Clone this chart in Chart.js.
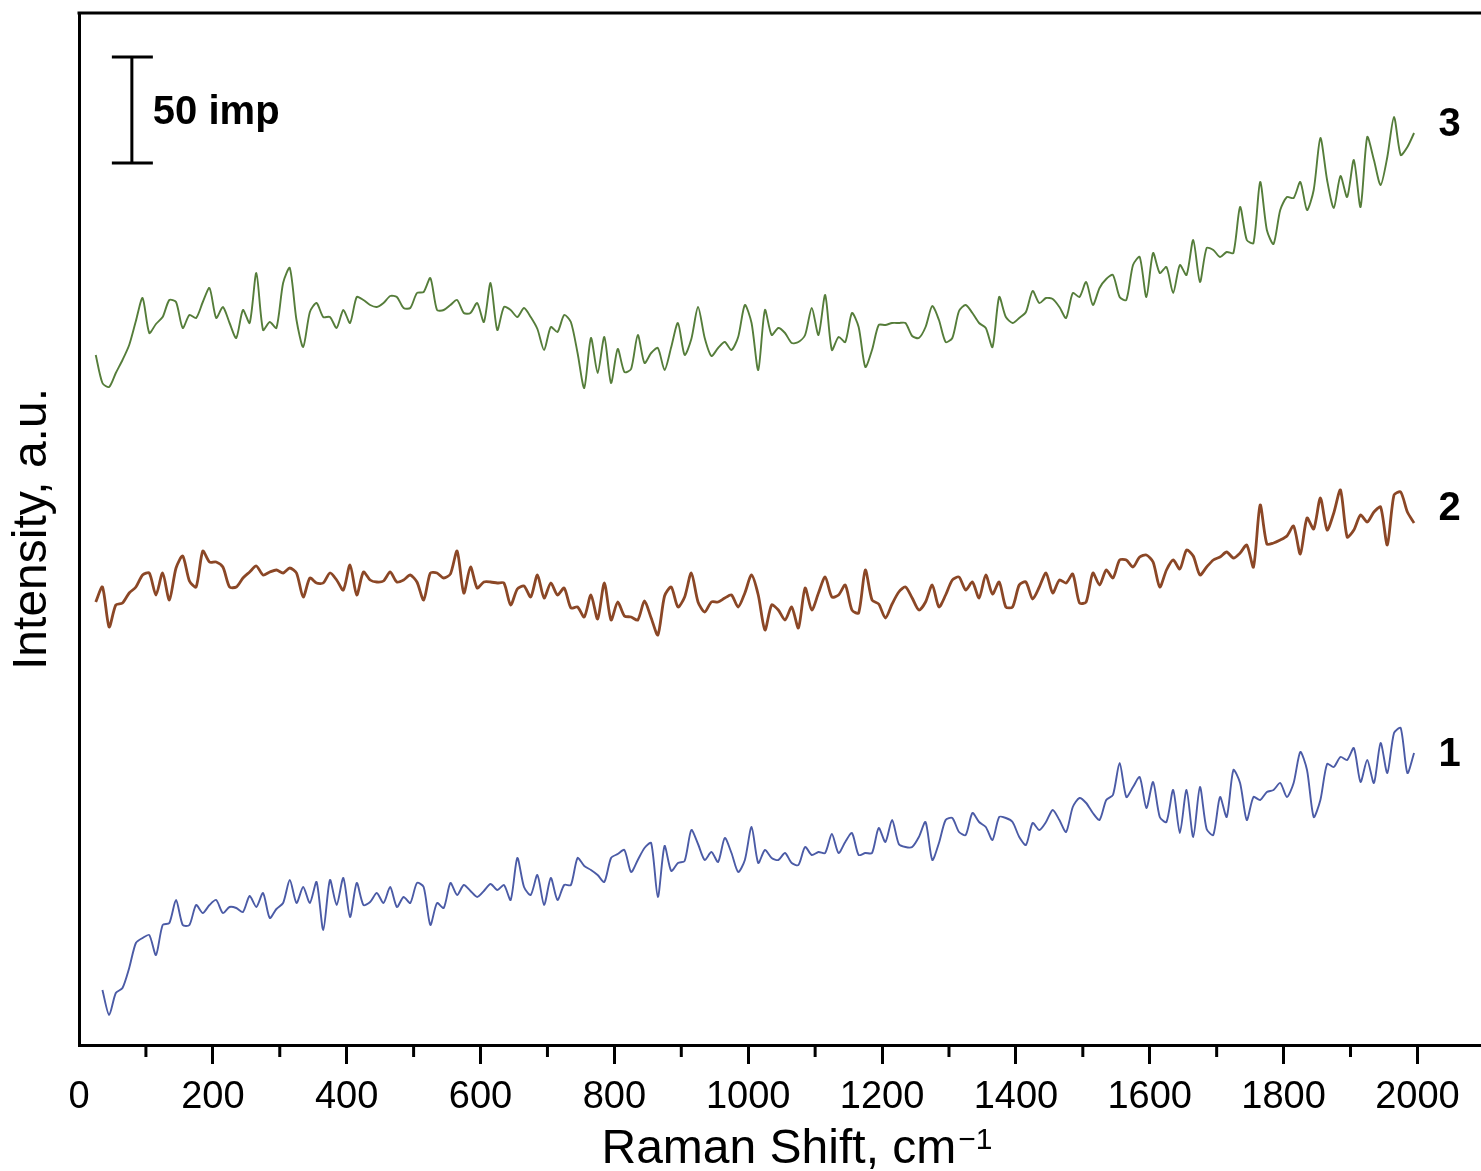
<!DOCTYPE html>
<html>
<head>
<meta charset="utf-8">
<title>Raman spectra</title>
<script src="https://cdn.jsdelivr.net/npm/chart.js@4/dist/chart.umd.min.js"></script>
<style>
  html, body { margin: 0; padding: 0; background: #ffffff; }
  #chart-wrap { width: 1481px; height: 1171px; }
</style>
</head>
<body>
<div id="chart-wrap"><canvas id="chart-space" width="1481" height="1171"></canvas></div>
<script>
// Raman shift grid, cm-1
const ramanShift = [
  25, 35, 45, 55, 65, 75, 85, 95, 105, 115,
  125, 135, 145, 155, 165, 175, 185, 195, 205, 215,
  225, 235, 245, 255, 265, 275, 285, 295, 305, 315,
  325, 335, 345, 355, 365, 375, 385, 395, 405, 415,
  425, 435, 445, 455, 465, 475, 485, 495, 505, 515,
  525, 535, 545, 555, 565, 575, 585, 595, 605, 615,
  625, 635, 645, 655, 665, 675, 685, 695, 705, 715,
  725, 735, 745, 755, 765, 775, 785, 795, 805, 815,
  825, 835, 845, 855, 865, 875, 885, 895, 905, 915,
  925, 935, 945, 955, 965, 975, 985, 995, 1005, 1015,
  1025, 1035, 1045, 1055, 1065, 1075, 1085, 1095, 1105, 1115,
  1125, 1135, 1145, 1155, 1165, 1175, 1185, 1195, 1205, 1215,
  1225, 1235, 1245, 1255, 1265, 1275, 1285, 1295, 1305, 1315,
  1325, 1335, 1345, 1355, 1365, 1375, 1385, 1395, 1405, 1415,
  1425, 1435, 1445, 1455, 1465, 1475, 1485, 1495, 1505, 1515,
  1525, 1535, 1545, 1555, 1565, 1575, 1585, 1595, 1605, 1615,
  1625, 1635, 1645, 1655, 1665, 1675, 1685, 1695, 1705, 1715,
  1725, 1735, 1745, 1755, 1765, 1775, 1785, 1795, 1805, 1815,
  1825, 1835, 1845, 1855, 1865, 1875, 1885, 1895, 1905, 1915,
  1925, 1935, 1945, 1955, 1965, 1975, 1985, 1995
];

// intensities (a.u., spectra stacked with offsets)
const spectrum1 = [
  null, 55, 30, 52, 57, 77, 102, 107, 110, 90,
  120, 122, 145, 120, 120, 140, 132, 140, 145, 132,
  138, 137, 133, 149, 138, 152, 127, 136, 142, 165,
  142, 158, 142, 163, 115, 165, 140, 167, 128, 162,
  140, 143, 152, 142, 158, 138, 148, 142, 162, 158,
  120, 142, 137, 162, 150, 160, 154, 148, 154, 161,
  155, 160, 145, 187, 158, 150, 170, 140, 167, 145,
  160, 160, 187, 179, 175, 170, 163, 187, 191, 195,
  173, 185, 197, 202, 148, 199, 174, 182, 184, 215,
  201, 185, 193, 183, 207, 192, 173, 185, 218, 182,
  195, 187, 185, 192, 182, 180, 198, 190, 193, 192,
  211, 192, 203, 212, 190, 192, 192, 217, 203, 225,
  201, 198, 198, 208, 223, 185, 202, 225, 227, 213,
  210, 232, 223, 218, 205, 228, 227, 223, 208, 200,
  222, 215, 223, 235, 225, 213, 238, 247, 242, 232,
  225, 245, 250, 282, 248, 258, 268, 237, 263, 228,
  223, 255, 212, 255, 208, 258, 216, 210, 248, 228,
  275, 262, 225, 248, 245, 253, 255, 262, 248, 262,
  293, 275, 228, 245, 281, 278, 288, 285, 297, 263,
  285, 262, 302, 272, 312, 317, 272, 292
];

const spectrum2 = [
  443, 458, 418, 440, 442, 452, 458, 470, 472, 450,
  472, 445, 477, 489, 464, 458, 494, 483, 483, 478,
  458, 458, 467, 473, 479, 470, 473, 475, 472, 477,
  472, 448, 467, 462, 462, 472, 465, 455, 480, 450,
  473, 465, 463, 464, 473, 463, 465, 470, 463, 445,
  472, 472, 467, 471, 494, 452, 478, 457, 463, 463,
  462, 462, 440, 456, 459, 448, 470, 447, 462, 450,
  457, 437, 438, 428, 450, 426, 462, 425, 443, 429,
  428, 425, 444, 427, 410, 449, 458, 438, 448, 472,
  443, 433, 443, 443, 447, 450, 438, 452, 470, 450,
  415, 440, 435, 425, 438, 417, 457, 435, 452, 468,
  448, 450, 460, 435, 432, 475, 445, 441, 427, 441,
  453, 458, 447, 435, 443, 460, 438, 450, 465, 468,
  455, 463, 447, 470, 451, 463, 438, 438, 460, 463,
  446, 458, 472, 452, 465, 462, 471, 442, 443, 472,
  460, 475, 467, 485, 485, 478, 488, 490, 483, 458,
  475, 485, 476, 495, 489, 470, 478, 485, 488, 493,
  487, 492, 500, 478, 540, 501, 502, 505, 509, 519,
  491, 527, 516, 547, 515, 532, 555, 508, 515, 530,
  523, 533, 538, 500, 550, 553, 533, 522
];

const spectrum3 = [
  690, 662, 658, 672, 685, 700, 724, 747, 712, 721,
  728, 745, 743, 717, 730, 727, 743, 757, 727, 738,
  722, 707, 735, 722, 772, 715, 723, 717, 762, 777,
  725, 698, 733, 742, 728, 728, 717, 735, 722, 748,
  745, 740, 738, 742, 749, 748, 737, 737, 752, 753,
  767, 735, 735, 740, 745, 732, 732, 742, 723, 762,
  715, 738, 735, 728, 737, 728, 716, 695, 718, 713,
  730, 723, 692, 657, 707, 672, 708, 662, 696, 673,
  676, 710, 682, 692, 697, 675, 698, 722, 690, 706,
  738, 707, 689, 697, 703, 695, 708, 740, 722, 675,
  735, 710, 717, 712, 702, 703, 710, 737, 710, 750,
  695, 708, 703, 732, 718, 678, 695, 720, 720, 722,
  722, 722, 709, 707, 718, 739, 725, 703, 707, 734,
  740, 732, 722, 717, 698, 748, 728, 722, 727, 733,
  754, 742, 747, 746, 738, 727, 752, 748, 763, 740,
  757, 766, 770, 748, 745, 780, 788, 748, 792, 772,
  778, 752, 780, 770, 805, 763, 797, 795, 788, 793,
  792, 838, 805, 802, 863, 815, 801, 835, 848, 847,
  863, 835, 855, 907, 865, 837, 869, 848, 885, 838,
  908, 885, 860, 888, 928, 890, 898, 912
];

const xTickValues = [0, 100, 200, 300, 400, 500, 600, 700, 800, 900, 1000,
  1100, 1200, 1300, 1400, 1500, 1600, 1700, 1800, 1900, 2000];

// curve numbers at the right end
const curveNames = ['1', '2', '3'];
const curveNameShift = [2048, 2048, 2048];
const curveNameLevel = [290, 536, 920];

// scale bar: 50 imp
const scaleBarShift = 79;
const scaleBarTop = 988;
const scaleBarHeight = 106;
const scaleBarText = '50 imp';

const xTitle = 'Raman Shift, cm';
const xTitleSup = '\u22121';

const FONT = "'Liberation Sans', Arial, sans-serif";
Chart.defaults.font.family = FONT;
Chart.defaults.color = '#000';

function toPoints(values) {
  return ramanShift.map((x, i) => ({ x: x, y: values[i] }));
}

const decorations = {
  id: 'decorations',
  afterDraw(chart) {
    const { ctx, chartArea, scales } = chart;
    const x = scales.x, y = scales.y;
    ctx.save();
    ctx.strokeStyle = '#000';
    ctx.fillStyle = '#000';
    ctx.lineWidth = 3;
    // top frame line
    ctx.beginPath();
    ctx.moveTo(chartArea.left - 1.5, chartArea.top);
    ctx.lineTo(chartArea.right, chartArea.top);
    ctx.stroke();
    // minor ticks
    xTickValues.filter(v => v % 200 !== 0).forEach(v => {
      const px = x.getPixelForValue(v);
      ctx.beginPath();
      ctx.moveTo(px, chartArea.bottom);
      ctx.lineTo(px, chartArea.bottom + 12);
      ctx.stroke();
    });
    // scale bar
    const bx = x.getPixelForValue(scaleBarShift);
    const bTop = y.getPixelForValue(scaleBarTop);
    const bBot = y.getPixelForValue(scaleBarTop - scaleBarHeight);
    ctx.beginPath();
    ctx.moveTo(bx, bTop); ctx.lineTo(bx, bBot);
    ctx.moveTo(bx - 20, bTop); ctx.lineTo(bx + 21, bTop);
    ctx.moveTo(bx - 20, bBot); ctx.lineTo(bx + 21, bBot);
    ctx.stroke();
    ctx.font = 'bold 40px ' + FONT;
    ctx.textBaseline = 'middle';
    ctx.textAlign = 'left';
    ctx.fillText(scaleBarText, bx + 21, (bTop + bBot) / 2 + 3);
    // curve numbers
    ctx.textAlign = 'center';
    curveNames.forEach((t, i) => {
      ctx.fillText(t, x.getPixelForValue(curveNameShift[i]), y.getPixelForValue(curveNameLevel[i]));
    });
    // x axis title with superscript
    ctx.textBaseline = 'alphabetic';
    ctx.textAlign = 'left';
    ctx.font = '48px ' + FONT;
    const mainW = ctx.measureText(xTitle).width;
    ctx.font = '30px ' + FONT;
    const supW = ctx.measureText(xTitleSup).width;
    const cx = (chartArea.left + chartArea.right) / 2 + 17;
    const startX = cx - (mainW + supW + 2) / 2;
    const base = chartArea.bottom + 118;
    ctx.font = '48px ' + FONT;
    ctx.fillText(xTitle, startX, base);
    ctx.font = '30px ' + FONT;
    ctx.fillText(xTitleSup, startX + mainW + 2, base - 14);
    ctx.restore();
  }
};

const chart = new Chart(document.getElementById('chart-space').getContext('2d'), {
  type: 'line',
  data: {
    datasets: [
      { label: '1', data: toPoints(spectrum1), borderColor: '#4b5ba6', borderWidth: 1.9 },
      { label: '2', data: toPoints(spectrum2), borderColor: '#8b4726', borderWidth: 2.8 },
      { label: '3', data: toPoints(spectrum3), borderColor: '#557d3a', borderWidth: 1.9 }
    ]
  },
  options: {
    responsive: false,
    animation: false,
    devicePixelRatio: 1,
    parsing: false,
    elements: {
      point: { radius: 0 },
      line: { tension: 0.25, borderJoinStyle: 'round' }
    },
    layout: { padding: { top: 13, right: 0, bottom: 0, left: 0 } },
    plugins: {
      legend: { display: false },
      tooltip: { enabled: false }
    },
    scales: {
      x: {
        type: 'linear',
        min: 0,
        max: 2095,
        afterBuildTicks: scale => { scale.ticks = xTickValues.map(v => ({ value: v })); },
        afterFit: scale => { scale.height = 126; },
        border: { display: true, color: '#000', width: 3 },
        grid: {
          display: true,
          drawOnChartArea: false,
          drawTicks: true,
          tickLength: 19,
          tickWidth: 3,
          tickColor: ctx => (ctx.tick && ctx.tick.value % 200 === 0 && ctx.tick.value > 0) ? '#000' : 'rgba(0,0,0,0)'
        },
        ticks: {
          autoSkip: false,
          maxRotation: 0,
          padding: 11,
          font: { size: 38 },
          callback: v => (v % 200 === 0 ? String(v) : '')
        },
        title: { display: false }
      },
      y: {
        type: 'linear',
        min: 0,
        max: 1032,
        afterFit: scale => { scale.width = 79; },
        border: { display: true, color: '#000', width: 3 },
        grid: { display: false },
        ticks: { display: false },
        title: {
          display: true,
          text: 'Intensity, a.u.',
          font: { size: 48, lineHeight: 1.2 },
          padding: { top: 4, bottom: 0 }
        }
      }
    }
  },
  plugins: [decorations]
});
</script>
</body>
</html>
